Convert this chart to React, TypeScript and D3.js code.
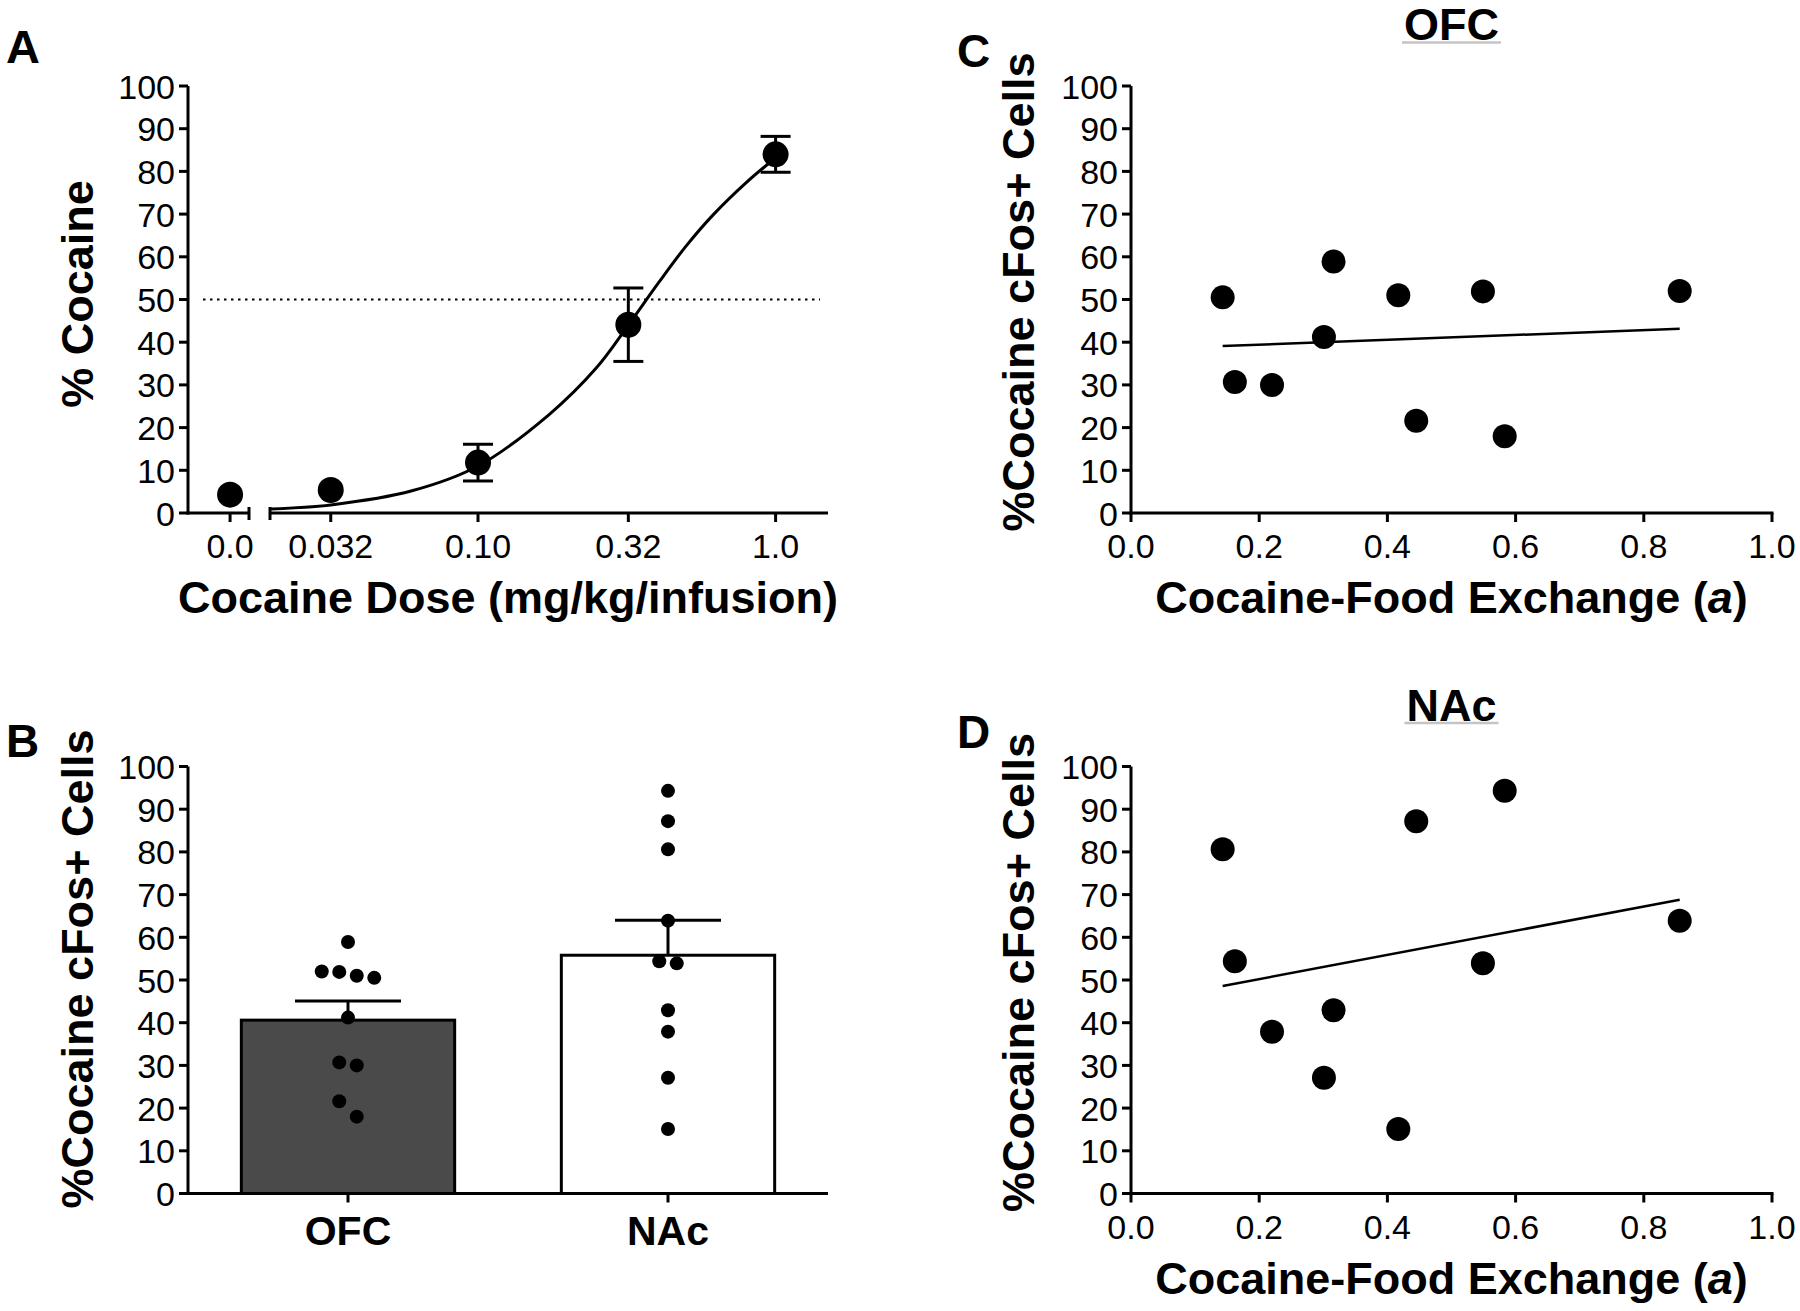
import React from "react";
import * as d3 from "d3";

const FONT = "'Liberation Sans', Arial, Helvetica, sans-serif";

// ---------- Panel A : dose-response ----------
const doseLabels = ["0.0", "0.032", "0.10", "0.32", "1.0"];
const doses = [0, 0.032, 0.1, 0.32, 1.0];
const pctCocaine = [4.3, 5.4, 11.8, 44.1, 84.0];
const pctCocaineSem = [1.0, 1.0, 4.3, 8.6, 4.2];
// fitted curve
const fitDose = [0.0201, 0.032, 0.06, 0.1, 0.173, 0.25, 0.32, 0.405, 0.5, 0.62, 0.8, 1.0];
const fitPct = [0.95, 1.9, 5.2, 11.0, 23.0, 34.0, 44.0, 54.0, 62.5, 70.0, 77.5, 83.2];
const halfLine = 50;

// ---------- Panels B, C, D ----------
const regions = ["OFC", "NAc"];
const regionMeans = [40.6, 55.8];
const regionSem = [4.5, 8.2];

const exchangeA = [0.143, 0.162, 0.22, 0.301, 0.316, 0.417, 0.445, 0.549, 0.583, 0.856];
const ofcCfos = [50.5, 30.7, 30.0, 41.2, 58.9, 51.0, 21.6, 51.9, 18.0, 52.0];
const nacCfos = [80.6, 54.4, 37.9, 27.1, 42.9, 15.1, 87.2, 53.9, 94.3, 63.9];
// regression line end values (at min and max of exchangeA)
const ofcFit = [39.1, 43.15];
const nacFit = [48.6, 68.8];

const yTicks = d3.range(0, 101, 10);
const xTicksExchange = [0, 0.2, 0.4, 0.6, 0.8, 1.0];

const SW = 3;
const TICK = 9;
const TICK_FONT = 34;

function measure(str: string, font: string) {
  const ctx = document.createElement("canvas").getContext("2d");
  if (!ctx) return str.length * 24;
  ctx.font = font;
  return ctx.measureText(str).width;
}

function YAxis({ x, scale }: { x: number; scale: d3.ScaleLinear<number, number> }) {
  const [y0, y1] = scale.range();
  return (
    <g>
      <line x1={x} x2={x} y1={y0 + SW / 2} y2={y1} stroke="#000" strokeWidth={SW} />
      {yTicks.map((t) => (
        <g key={t}>
          <line x1={x - TICK} x2={x} y1={scale(t)} y2={scale(t)} stroke="#000" strokeWidth={SW} />
          <text x={x - 13} y={scale(t)} dy="0.37em" textAnchor="end" fontSize={TICK_FONT}>
            {t}
          </text>
        </g>
      ))}
    </g>
  );
}

function YTitle({ x, y, text }: { x: number; y: number; text: string }) {
  return (
    <text
      transform={`translate(${x},${y}) rotate(-90)`}
      textAnchor="middle"
      fontWeight="bold"
      fontSize={45}
    >
      {text}
    </text>
  );
}

function Title({ cx, y, text }: { cx: number; y: number; text: string }) {
  const w = measure(text, `bold 45px ${FONT}`);
  return (
    <g>
      <text x={cx} y={y} textAnchor="middle" fontWeight="bold" fontSize={45}>
        {text}
      </text>
      <line x1={cx - w / 2 - 2} x2={cx + w / 2 + 2} y1={y + 2.5} y2={y + 2.5} stroke="#c4c4c4" strokeWidth={2.5} />
    </g>
  );
}

function swarmOffsets(values: number[], threshold: number, spacing: number): number[] {
  const order = d3.range(values.length).sort((a, b) => values[b] - values[a]);
  const groups: number[][] = [];
  order.forEach((i) => {
    const g = groups[groups.length - 1];
    if (g && values[g[g.length - 1]] - values[i] <= threshold) g.push(i);
    else groups.push([i]);
  });
  const off = new Array(values.length).fill(0);
  groups.forEach((g) => g.forEach((i, k) => (off[i] = (k - (g.length - 1) / 2) * spacing)));
  return off;
}

function ScatterPanel({
  top,
  values,
  fit,
  title,
  letter,
}: {
  top: number;
  values: number[];
  fit: number[];
  title: string;
  letter: string;
}) {
  const x = d3.scaleLinear().domain([0, 1]).range([1131, 1772]);
  const y = d3.scaleLinear().domain([0, 100]).range([top + 427, top]);
  const y0 = y(0);
  const [xmin, xmax] = d3.extent(exchangeA) as [number, number];
  const fmt = d3.format(".1f");
  return (
    <g>
      <text x={957} y={top - 19} fontWeight="bold" fontSize={46}>
        {letter}
      </text>
      <Title cx={(x(0) + x(1)) / 2} y={top - 46} text={title} />
      <YTitle x={1034} y={top + 206} text="%Cocaine cFos+ Cells" />
      <YAxis x={x(0)} scale={y} />
      <line x1={x(0) - SW / 2} x2={x(1) + SW / 2} y1={y0} y2={y0} stroke="#000" strokeWidth={SW} />
      {xTicksExchange.map((t) => (
        <g key={t}>
          <line x1={x(t)} x2={x(t)} y1={y0} y2={y0 + TICK} stroke="#000" strokeWidth={SW} />
          <text x={x(t)} y={y0 + 45} textAnchor="middle" fontSize={TICK_FONT}>
            {fmt(t)}
          </text>
        </g>
      ))}
      <text x={(x(0) + x(1)) / 2} y={y0 + 100} textAnchor="middle" fontWeight="bold" fontSize={45}>
        Cocaine-Food Exchange (<tspan fontStyle="italic">a</tspan>)
      </text>
      <line x1={x(xmin)} x2={x(xmax)} y1={y(fit[0])} y2={y(fit[1])} stroke="#000" strokeWidth={2.5} />
      {exchangeA.map((a, i) => (
        <circle key={i} cx={x(a)} cy={y(values[i])} r={12} fill="#000" />
      ))}
    </g>
  );
}

function PanelA() {
  const top = 86;
  const y = d3.scaleLinear().domain([0, 100]).range([top + 427, top]);
  const y0 = y(0);
  const xZero = d3.scaleLinear().domain([-1, 0.45]).range([188, 249]);
  const xLog = d3.scaleLog().domain([0.02, 1.5]).range([270, 828]);
  const px = (d: number) => (d === 0 ? xZero(0) : xLog(d));
  const curve = d3
    .line<number>()
    .x((_, i) => xLog(fitDose[i]))
    .y((v) => y(v))
    .curve(d3.curveCatmullRom.alpha(0.5))(fitPct);
  const capW = 15;
  const r = 13;
  return (
    <g>
      <text x={6} y={63} fontWeight="bold" fontSize={47}>
        A
      </text>
      <YTitle x={93} y={294} text="% Cocaine" />
      <YAxis x={188} scale={y} />
      {/* axis segment for zero dose */}
      <line x1={188 - SW / 2} x2={xZero(0.45)} y1={y0} y2={y0} stroke="#000" strokeWidth={SW} />
      <line x1={xZero(0.45)} x2={xZero(0.45)} y1={y0 - 6} y2={y0 + 7} stroke="#000" strokeWidth={SW} />
      {/* log axis segment */}
      <line x1={xLog(0.02)} x2={xLog(1.5)} y1={y0} y2={y0} stroke="#000" strokeWidth={SW} />
      <line x1={xLog(0.02)} x2={xLog(0.02)} y1={y0 - 6} y2={y0 + 7} stroke="#000" strokeWidth={SW} />
      {doses.map((d, i) => (
        <g key={i}>
          <line x1={px(d)} x2={px(d)} y1={y0} y2={y0 + TICK} stroke="#000" strokeWidth={SW} />
          <text x={px(d)} y={y0 + 45} textAnchor="middle" fontSize={TICK_FONT}>
            {doseLabels[i]}
          </text>
        </g>
      ))}
      <text x={508} y={y0 + 100} textAnchor="middle" fontWeight="bold" fontSize={45}>
        Cocaine Dose (mg/kg/infusion)
      </text>
      <line
        x1={203}
        x2={820}
        y1={y(halfLine)}
        y2={y(halfLine)}
        stroke="#000"
        strokeWidth={2}
        strokeDasharray="2.5,4.5"
      />
      <path d={curve || ""} fill="none" stroke="#000" strokeWidth={3} />
      {doses.map((d, i) => {
        const cx = px(d);
        const hi = y(pctCocaine[i] + pctCocaineSem[i]);
        const lo = y(pctCocaine[i] - pctCocaineSem[i]);
        const visible = y(pctCocaine[i]) - hi > r;
        return (
          <g key={i}>
            {visible && (
              <g>
                <line x1={cx} x2={cx} y1={hi} y2={lo} stroke="#000" strokeWidth={SW} />
                <line x1={cx - capW} x2={cx + capW} y1={hi} y2={hi} stroke="#000" strokeWidth={SW} />
                <line x1={cx - capW} x2={cx + capW} y1={lo} y2={lo} stroke="#000" strokeWidth={SW} />
              </g>
            )}
            <circle cx={cx} cy={y(pctCocaine[i])} r={r} fill="#000" />
          </g>
        );
      })}
    </g>
  );
}

function PanelB() {
  const top = 766.5;
  const y = d3.scaleLinear().domain([0, 100]).range([top + 427, top]);
  const y0 = y(0);
  const x = d3.scaleBand().domain(regions).range([188, 828]).paddingInner(1 / 3).paddingOuter(1 / 6);
  const bw = x.bandwidth();
  const groups = [ofcCfos, nacCfos];
  const fills = ["#4a4a4a", "#ffffff"];
  const capW = 53;
  return (
    <g>
      <text x={6} y={757} fontWeight="bold" fontSize={46}>
        B
      </text>
      <YTitle x={93} y={969} text="%Cocaine cFos+ Cells" />
      {regions.map((r, i) => {
        const cx = (x(r) as number) + bw / 2;
        const ytop = y(regionMeans[i]);
        const yerr = y(regionMeans[i] + regionSem[i]);
        return (
          <g key={r}>
            <rect x={x(r)} y={ytop} width={bw} height={y0 - ytop} fill={fills[i]} stroke="#000" strokeWidth={SW} />
            <line x1={cx} x2={cx} y1={ytop} y2={yerr} stroke="#000" strokeWidth={SW} />
            <line x1={cx - capW} x2={cx + capW} y1={yerr} y2={yerr} stroke="#000" strokeWidth={SW} />
          </g>
        );
      })}
      <YAxis x={188} scale={y} />
      <line x1={188 - SW / 2} x2={828} y1={y0} y2={y0} stroke="#000" strokeWidth={SW} />
      {regions.map((r) => {
        const cx = (x(r) as number) + bw / 2;
        return (
          <g key={r}>
            <line x1={cx} x2={cx} y1={y0} y2={y0 + TICK} stroke="#000" strokeWidth={SW} />
            <text x={cx} y={y0 + 51} textAnchor="middle" fontWeight="bold" fontSize={41}>
              {r}
            </text>
          </g>
        );
      })}
      {regions.map((r, gi) => {
        const cx = (x(r) as number) + bw / 2;
        const vals = groups[gi];
        const off = swarmOffsets(vals, 4.5, 17.5);
        return (
          <g key={r}>
            {vals.map((v, i) => (
              <circle key={i} cx={cx + off[i]} cy={y(v)} r={7} fill="#000" />
            ))}
          </g>
        );
      })}
    </g>
  );
}

export default function App() {
  return (
    <svg
      width={1800}
      height={1311}
      viewBox="0 0 1800 1311"
      style={{ position: "absolute", left: 0, top: 0, background: "#fff" }}
      fontFamily={FONT}
    >
      <rect width={1800} height={1311} fill="#fff" />
      <PanelA />
      <PanelB />
      <ScatterPanel top={86} values={ofcCfos} fit={ofcFit} title="OFC" letter="C" />
      <ScatterPanel top={766.5} values={nacCfos} fit={nacFit} title="NAc" letter="D" />
    </svg>
  );
}
